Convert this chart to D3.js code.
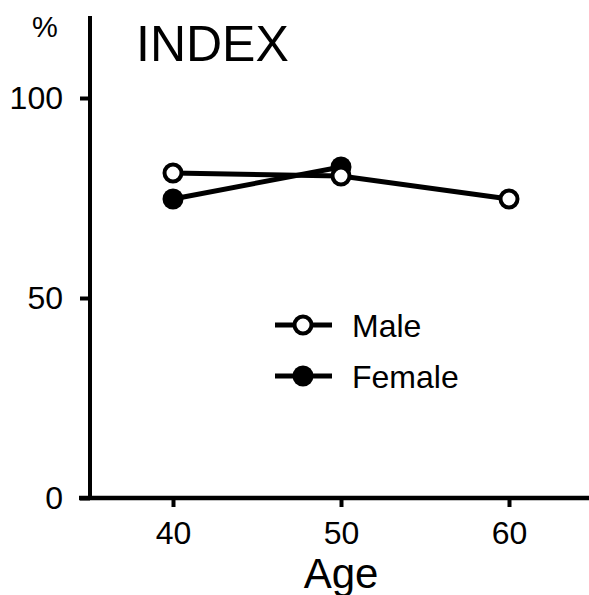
<!DOCTYPE html>
<html>
<head>
<meta charset="utf-8">
<script src="https://cdn.jsdelivr.net/npm/d3@7"></script>
<style>
  body { margin: 0; background: #fff; }
  text { font-family: "Liberation Sans", Arial, Helvetica, sans-serif; fill: #000; }
</style>
</head>
<body>
<div id="container"></div>
<script>
// data we work with
let ages = [40, 50, 60];
let maleValues = [81.25, 80.5, 74.75];
let femaleAges = [40, 50];
let femaleValues = [74.75, 82.75];
let xTicks = [40, 50, 60];
let yTicks = [0, 50, 100];

let w = 589;
let h = 595;

let viz = d3.select("#container")
  .append("svg")
    .attr("width", w)
    .attr("height", h)
;

// scales
let xScale = d3.scaleLinear().domain([40, 60]).range([173, 509]);
let yScale = d3.scaleLinear().domain([0, 100]).range([498, 98]);
let axisX = 90;
let axisY = 498;

// x axis
let xAxis = d3.axisBottom(xScale).tickValues(xTicks).tickSize(9).tickPadding(14).tickSizeOuter(0);
let xAxisGroup = viz.append("g").attr("class", "xaxis")
  .attr("transform", "translate(0," + axisY + ")")
  .call(xAxis);
xAxisGroup.select(".domain").remove();
xAxisGroup.append("line")
  .attr("x1", 79).attr("x2", w)
  .attr("stroke", "#000").attr("stroke-width", 4.5);
xAxisGroup.selectAll(".tick line").attr("stroke", "#000").attr("stroke-width", 4);
xAxisGroup.selectAll(".tick text")
  .attr("font-size", 32)
  .attr("font-family", "Liberation Sans, Arial, sans-serif")
  .attr("fill", "#000");

// y axis
let yAxis = d3.axisLeft(yScale).tickValues(yTicks).tickSize(10).tickPadding(17).tickSizeOuter(0);
let yAxisGroup = viz.append("g").attr("class", "yaxis")
  .attr("transform", "translate(" + axisX + ",0)")
  .call(yAxis);
yAxisGroup.select(".domain").remove();
yAxisGroup.append("line")
  .attr("y1", axisY).attr("y2", yScale(120.5))
  .attr("stroke", "#000").attr("stroke-width", 4);
yAxisGroup.selectAll(".tick line").attr("stroke", "#000").attr("stroke-width", 4);
yAxisGroup.selectAll(".tick text")
  .attr("font-size", 32)
  .attr("font-family", "Liberation Sans, Arial, sans-serif")
  .attr("fill", "#000");

// labels
viz.append("text").text("%")
  .attr("x", 45).attr("y", 37)
  .attr("text-anchor", "middle").attr("font-size", 29);
viz.append("text").text("INDEX")
  .attr("x", 136).attr("y", 61)
  .attr("font-size", 50);
viz.append("text").text("Age")
  .attr("x", xScale(50)).attr("y", 588)
  .attr("text-anchor", "middle").attr("font-size", 42);

// lines
let line = d3.line()
  .x(function(d){ return xScale(d.age); })
  .y(function(d){ return yScale(d.value); });

let female = femaleAges.map(function(a, i){ return { age: a, value: femaleValues[i] }; });
let male = ages.map(function(a, i){ return { age: a, value: maleValues[i] }; });

let graphgroup = viz.append("g").attr("class", "graphgroup");

graphgroup.append("path").datum(female)
  .attr("d", line).attr("fill", "none")
  .attr("stroke", "#000").attr("stroke-width", 5);
graphgroup.selectAll(".female").data(female).enter()
  .append("circle").attr("class", "female")
    .attr("cx", function(d){ return xScale(d.age); })
    .attr("cy", function(d){ return yScale(d.value); })
    .attr("r", 10.5)
    .attr("fill", "#000");

graphgroup.append("path").datum(male)
  .attr("d", line).attr("fill", "none")
  .attr("stroke", "#000").attr("stroke-width", 5);
graphgroup.selectAll(".male").data(male).enter()
  .append("circle").attr("class", "male")
    .attr("cx", function(d){ return xScale(d.age); })
    .attr("cy", function(d){ return yScale(d.value); })
    .attr("r", 8.5)
    .attr("fill", "#fff")
    .attr("stroke", "#000").attr("stroke-width", 4);

// legend
let legend = viz.append("g").attr("class", "legend");
let legendItems = [
  { name: "Male", y: 325, open: true },
  { name: "Female", y: 376, open: false }
];
legendItems.forEach(function(item){
  legend.append("line")
    .attr("x1", 275).attr("x2", 332)
    .attr("y1", item.y).attr("y2", item.y)
    .attr("stroke", "#000").attr("stroke-width", 5);
  legend.append("circle")
    .attr("cx", 303).attr("cy", item.y)
    .attr("r", item.open ? 8.5 : 10.5)
    .attr("fill", item.open ? "#fff" : "#000")
    .attr("stroke", item.open ? "#000" : "none")
    .attr("stroke-width", 4);
  legend.append("text").text(item.name)
    .attr("x", 352).attr("y", item.y + 12)
    .attr("font-size", 32);
});
</script>
</body>
</html>
